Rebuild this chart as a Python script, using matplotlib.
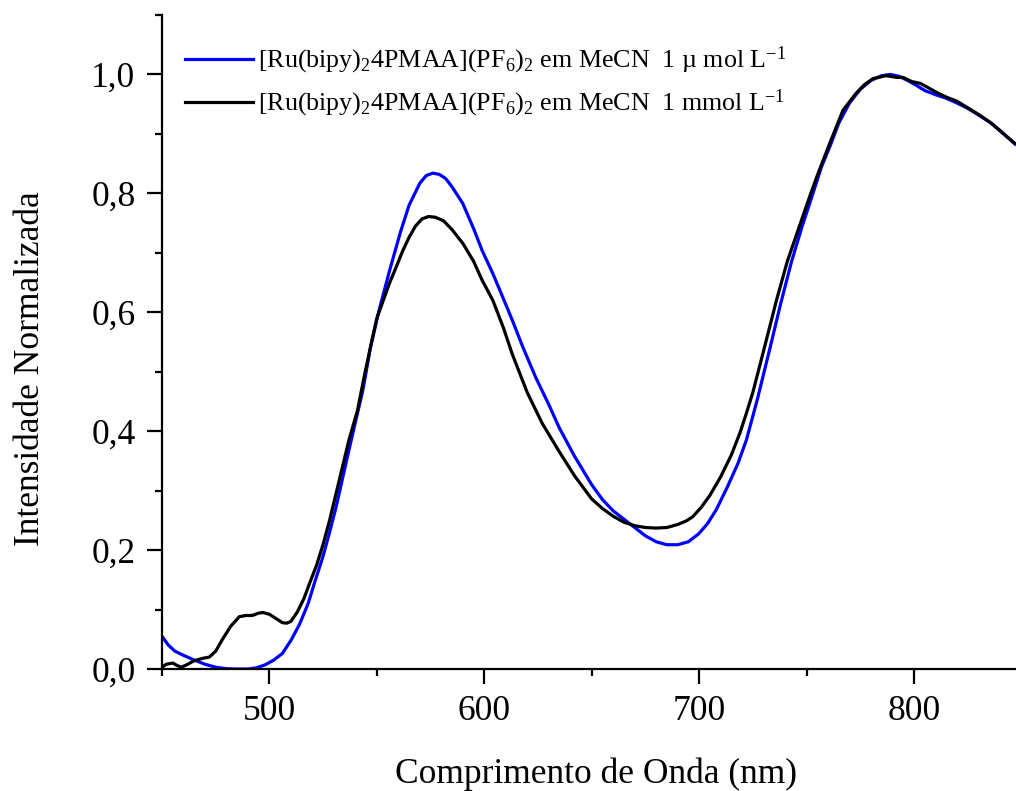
import numpy as np
import matplotlib
matplotlib.use('Agg')
import matplotlib.pyplot as plt
from matplotlib.ticker import MultipleLocator, FuncFormatter

plt.rcParams['font.family'] = ['Liberation Serif', 'DejaVu Serif']
plt.rcParams['mathtext.fontset'] = 'custom'
plt.rcParams['mathtext.rm'] = 'Liberation Serif'
plt.rcParams['mathtext.it'] = 'Liberation Serif:italic'

# 1 umol/L em MeCN (azul)
wl_azul = [450, 453, 456, 460, 465, 470, 475, 480, 485, 490, 494, 498, 502, 506, 510,
           514, 518, 521, 525, 528, 531, 534, 537, 540, 543.5, 547, 551, 556, 561, 565,
           570, 573, 576, 579, 582, 585, 590, 595, 599, 604, 609, 613, 618, 624, 630,
           635, 642, 650, 655, 660, 665, 670, 675, 680, 685, 690, 695, 700, 704, 708,
           713, 718, 722, 727, 733, 738, 743, 748, 753, 757, 761, 765, 770, 775, 780,
           785, 789, 793, 797, 801, 805, 810, 815, 820, 825, 830, 836, 841, 847]
int_azul = [0.055, 0.04, 0.03, 0.023, 0.015, 0.008, 0.003, 0.0005, 0.0, 0.0, 0.002, 0.007,
            0.015, 0.026, 0.048, 0.075, 0.11, 0.145, 0.19, 0.23, 0.272, 0.32, 0.368,
            0.415, 0.469, 0.54, 0.603, 0.671, 0.735, 0.78, 0.817, 0.83, 0.834, 0.832,
            0.825, 0.811, 0.783, 0.741, 0.704, 0.665, 0.622, 0.587, 0.541, 0.49, 0.445,
            0.405, 0.358, 0.31, 0.285, 0.266, 0.252, 0.238, 0.224, 0.214, 0.209, 0.209,
            0.214, 0.228, 0.245, 0.268, 0.305, 0.345, 0.385, 0.452, 0.54, 0.615, 0.685,
            0.745, 0.8, 0.845, 0.88, 0.918, 0.952, 0.975, 0.99, 0.998, 1.0, 0.997, 0.99,
            0.982, 0.973, 0.966, 0.96, 0.952, 0.943, 0.932, 0.918, 0.903, 0.883]

# 1 mmol/L em MeCN (preto)
wl_preto = [450, 452, 455, 457, 459, 462, 465, 469, 472, 475, 478, 482, 486, 489, 492,
            495, 497, 500, 503, 506, 508, 510, 513, 516, 519, 522, 525, 528, 531, 534,
            537, 541, 544, 547, 550, 553, 556, 559, 562, 565, 568, 571, 574, 577, 581,
            585, 590, 595, 599, 604, 609, 613, 620, 627, 635, 642, 650, 655, 660, 665,
            670, 675, 680, 685, 690, 694, 697, 701, 705, 710, 715, 719, 722, 725, 730,
            736, 741, 747, 752, 755, 761, 767, 773, 777, 781, 787, 792, 795, 799, 803,
            807, 811, 815, 820, 825, 830, 836, 841, 847]
int_preto = [0.003, 0.008, 0.01, 0.006, 0.003, 0.008, 0.014, 0.018, 0.02, 0.03, 0.049,
             0.072, 0.088, 0.09, 0.09, 0.094, 0.095, 0.092, 0.085, 0.078, 0.077, 0.08,
             0.096, 0.118, 0.147, 0.175, 0.21, 0.25, 0.295, 0.34, 0.385, 0.435, 0.49,
             0.541, 0.59, 0.62, 0.65, 0.676, 0.703, 0.726, 0.745, 0.757, 0.761, 0.76,
             0.754, 0.739, 0.716, 0.686, 0.654, 0.62, 0.573, 0.53, 0.465, 0.413, 0.365,
             0.325, 0.286, 0.27, 0.257, 0.247, 0.241, 0.238, 0.237, 0.238, 0.243, 0.249,
             0.256, 0.272, 0.292, 0.323, 0.36, 0.397, 0.43, 0.465, 0.535, 0.62, 0.685,
             0.748, 0.8, 0.83, 0.886, 0.94, 0.968, 0.983, 0.993, 0.998, 0.995, 0.995,
             0.988, 0.985, 0.977, 0.969, 0.962, 0.955, 0.944, 0.933, 0.918, 0.902, 0.884]

lbl_azul = r'[Ru(bipy)$_2$4PMAA](PF$_6$)$_2$ em MeCN  1 µ mol L$^{-1}$'
lbl_preto = r'[Ru(bipy)$_2$4PMAA](PF$_6$)$_2$ em MeCN  1 mmol L$^{-1}$'

fig = plt.figure(figsize=(10.16, 7.91), dpi=100)
ax = fig.add_axes([162/1016, 122/791, 1 - 162/1016, 654/791])

ax.plot(wl_azul, int_azul, color='#0000ff', lw=2.3, label=lbl_azul)
ax.plot(wl_preto, int_preto, color='black', lw=2.3, label=lbl_preto)

ax.set_xlim(450, 847.5)
ax.set_ylim(0, 1.1)
ax.spines['top'].set_visible(False)
ax.spines['right'].set_visible(False)
ax.spines['left'].set_linewidth(1.6)
ax.spines['bottom'].set_linewidth(1.6)

ax.xaxis.set_major_locator(MultipleLocator(100))
ax.xaxis.set_minor_locator(MultipleLocator(50))
ax.yaxis.set_major_locator(MultipleLocator(0.2))
ax.yaxis.set_minor_locator(MultipleLocator(0.1))
ax.yaxis.set_major_formatter(FuncFormatter(lambda v, p: ('%.1f' % v).replace('.', ',')))
ax.tick_params(which='major', direction='out', length=11, width=1.6, labelsize=25.5, pad=8)
ax.tick_params(which='minor', direction='out', length=5, width=1.6)

ax.set_xlabel('Comprimento de Onda (nm)', fontsize=25.5, labelpad=20)
ax.xaxis.set_label_coords(0.508, -0.135)
ax.set_ylabel('Intensidade Normalizada', fontsize=25.5)
ax.yaxis.set_label_coords(-0.135, 0.46)

ax.legend(loc='upper left', bbox_to_anchor=(0.0, 0.99), frameon=False, fontsize=18.7,
          handlelength=2.6, handletextpad=0.2, labelspacing=0.45, borderaxespad=0.5)

fig.savefig('out.png', dpi=100)
